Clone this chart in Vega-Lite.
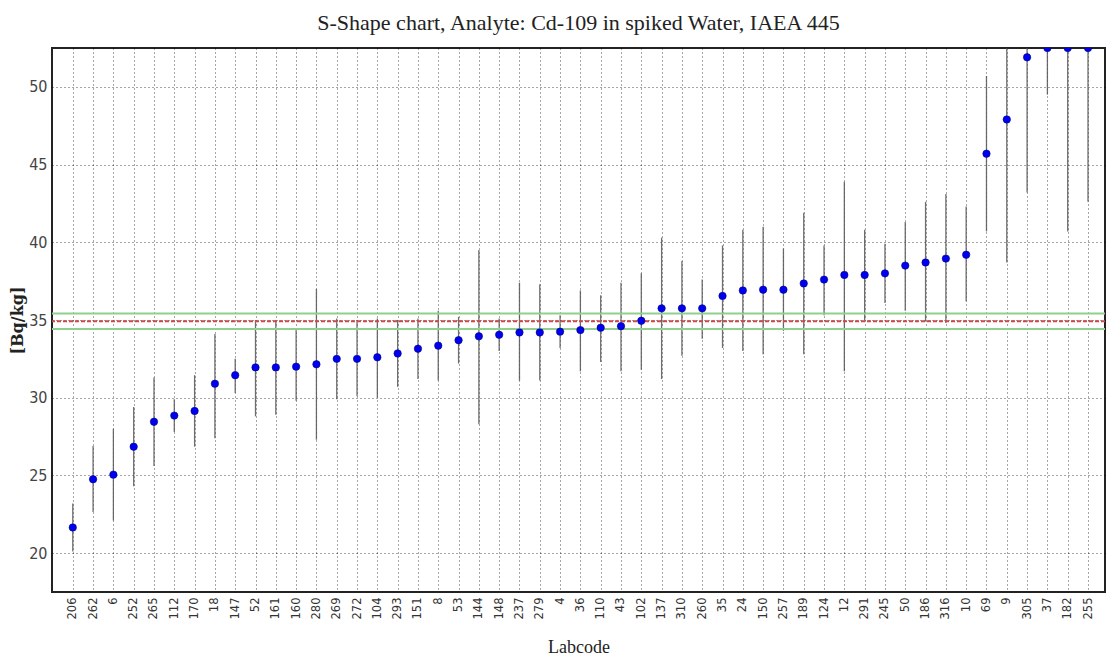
{
  "$schema": "https://vega.github.io/schema/vega-lite/v6.json",
  "autosize": {"type": "none"},
  "width": 1053,
  "height": 544,
  "padding": {"left": 52, "top": 48, "right": 6, "bottom": 67},
  "background": "white",
  "config": {
    "view": {"stroke": "#222", "strokeWidth": 2},
    "axis": {"gridColor": "#000", "gridDash": [1, 3], "gridOpacity": 0.7, "gridWidth": 1, "domain": false, "ticks": false}
  },
  "title": {"text": "S-Shape chart, Analyte: Cd-109 in spiked Water, IAEA 445", "font": "Liberation Serif", "fontSize": 22, "fontWeight": "normal", "color": "#222", "anchor": "middle", "offset": 13},
  "datasets": {
    "results": [
      {"code": "206", "value": 21.65, "lo": 20.1, "hi": 23.2},
      {"code": "262", "value": 24.75, "lo": 22.65, "hi": 26.9},
      {"code": "6", "value": 25.05, "lo": 22.1, "hi": 28.0},
      {"code": "252", "value": 26.85, "lo": 24.3, "hi": 29.4},
      {"code": "265", "value": 28.45, "lo": 25.6, "hi": 31.3},
      {"code": "112", "value": 28.85, "lo": 27.8, "hi": 29.9},
      {"code": "170", "value": 29.15, "lo": 26.85, "hi": 31.45},
      {"code": "18", "value": 30.9, "lo": 27.4, "hi": 34.1},
      {"code": "147", "value": 31.45, "lo": 30.3, "hi": 32.5},
      {"code": "52", "value": 31.95, "lo": 28.8, "hi": 35.0},
      {"code": "161", "value": 31.95, "lo": 28.9, "hi": 35.0},
      {"code": "160", "value": 32.0, "lo": 29.8, "hi": 34.4},
      {"code": "280", "value": 32.15, "lo": 27.3, "hi": 37.0},
      {"code": "269", "value": 32.5, "lo": 29.9, "hi": 35.1},
      {"code": "272", "value": 32.5, "lo": 30.1, "hi": 35.0},
      {"code": "104", "value": 32.6, "lo": 30.0, "hi": 35.1},
      {"code": "293", "value": 32.85, "lo": 30.7, "hi": 35.0},
      {"code": "151", "value": 33.15, "lo": 31.2, "hi": 35.1},
      {"code": "8", "value": 33.35, "lo": 31.1, "hi": 35.6},
      {"code": "53", "value": 33.7, "lo": 32.2, "hi": 35.2},
      {"code": "144", "value": 33.95, "lo": 28.3, "hi": 39.5},
      {"code": "148", "value": 34.05, "lo": 33.0, "hi": 35.1},
      {"code": "237", "value": 34.2, "lo": 31.1, "hi": 37.4},
      {"code": "279", "value": 34.2, "lo": 31.1, "hi": 37.3},
      {"code": "4", "value": 34.25, "lo": 33.2, "hi": 35.3},
      {"code": "36", "value": 34.35, "lo": 31.7, "hi": 36.9},
      {"code": "110", "value": 34.5, "lo": 32.3, "hi": 36.6},
      {"code": "43", "value": 34.6, "lo": 31.7, "hi": 37.4},
      {"code": "102", "value": 34.95, "lo": 31.8, "hi": 38.0},
      {"code": "137", "value": 35.75, "lo": 31.2, "hi": 40.3},
      {"code": "310", "value": 35.75, "lo": 32.7, "hi": 38.8},
      {"code": "260", "value": 35.75, "lo": 33.8, "hi": 37.6},
      {"code": "35", "value": 36.55, "lo": 33.2, "hi": 39.8},
      {"code": "24", "value": 36.9, "lo": 33.0, "hi": 40.8},
      {"code": "150", "value": 36.95, "lo": 32.8, "hi": 41.0},
      {"code": "257", "value": 36.95, "lo": 34.3, "hi": 39.6},
      {"code": "189", "value": 37.35, "lo": 32.8, "hi": 41.9},
      {"code": "124", "value": 37.6, "lo": 35.3, "hi": 39.8},
      {"code": "12", "value": 37.9, "lo": 31.7, "hi": 43.9},
      {"code": "291", "value": 37.9, "lo": 35.0, "hi": 40.8},
      {"code": "245", "value": 38.0, "lo": 36.1, "hi": 39.9},
      {"code": "50", "value": 38.5, "lo": 35.6, "hi": 41.3},
      {"code": "186", "value": 38.7, "lo": 34.9, "hi": 42.6},
      {"code": "316", "value": 38.95, "lo": 34.8, "hi": 43.1},
      {"code": "10", "value": 39.2, "lo": 36.2, "hi": 42.3},
      {"code": "69", "value": 45.7, "lo": 40.7, "hi": 50.7},
      {"code": "9", "value": 47.9, "lo": 38.7, "hi": 57.1},
      {"code": "305", "value": 51.9, "lo": 43.2, "hi": 60.6},
      {"code": "37", "value": 52.5, "lo": 49.5, "hi": 55.5},
      {"code": "182", "value": 52.5, "lo": 40.7, "hi": 64.3},
      {"code": "255", "value": 52.5, "lo": 42.6, "hi": 62.4}
    ],
    "refs": [
      {"level": 35.42, "kind": "upper"},
      {"level": 34.42, "kind": "lower"},
      {"level": 34.92, "kind": "mean"}
    ]
  },
  "layer": [
    {
      "data": {"name": "results"},
      "mark": {"type": "rule", "color": "#555", "strokeWidth": 1.3, "opacity": 0.85, "clip": true},
      "encoding": {
        "x": {"field": "code", "type": "ordinal", "sort": null,
              "scale": {"type": "point", "padding": 0.93, "align": 0.55},
              "axis": {"title": "Labcode", "titleFont": "Liberation Serif", "titleFontSize": 18, "titleFontWeight": "normal", "titleColor": "#222", "titlePadding": 20,
                       "labelAngle": -90, "labelFont": "DejaVu Sans", "labelFontSize": 11.5, "labelColor": "#333", "labelPadding": 5, "grid": true}},
        "y": {"field": "lo", "type": "quantitative",
              "scale": {"domain": [17.5, 52.5], "nice": false, "zero": false},
              "axis": {"title": "[Bq/kg]", "titleFont": "DejaVu Serif", "titleFontSize": 16, "titleFontWeight": "bold", "titleColor": "#222", "titlePadding": 3,
                       "values": [20, 25, 30, 35, 40, 45, 50], "labelFont": "Liberation Sans Narrow, DejaVu Sans Condensed, DejaVu Sans", "labelFontSize": 16, "labelColor": "#444", "labelPadding": 5, "grid": true}},
        "y2": {"field": "hi"}
      }
    },
    {
      "data": {"name": "refs"},
      "mark": {"type": "rule", "strokeWidth": 2, "clip": true},
      "encoding": {
        "y": {"field": "level", "type": "quantitative"},
        "color": {"field": "kind", "type": "nominal", "scale": {"domain": ["upper", "lower", "mean"], "range": ["#8fd08f", "#8fd08f", "#d04848"]}, "legend": null},
        "strokeDash": {"field": "kind", "type": "nominal", "scale": {"domain": ["upper", "lower", "mean"], "range": [[1, 0], [1, 0], [4, 2]]}, "legend": null}
      }
    },
    {
      "data": {"name": "results"},
      "mark": {"type": "point", "filled": true, "shape": "circle", "size": 55, "color": "#0000f0", "opacity": 1, "stroke": "#000080", "strokeWidth": 0.6, "clip": true},
      "encoding": {
        "x": {"field": "code", "type": "ordinal", "sort": null},
        "y": {"field": "value", "type": "quantitative"}
      }
    }
  ]
}
